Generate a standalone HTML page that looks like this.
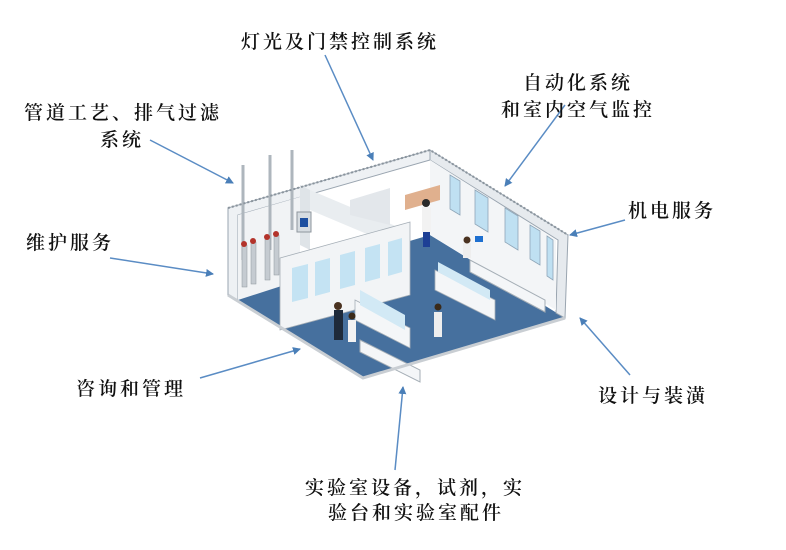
<!DOCTYPE html>
<html><head><meta charset="utf-8"><style>
html,body{margin:0;padding:0;background:#fff;}
body{width:786px;height:550px;overflow:hidden;position:relative;}
.t{position:absolute;font-family:"Liberation Serif","Noto Serif CJK SC",serif;font-size:19px;color:#111;white-space:nowrap;letter-spacing:3px;font-weight:600;}
svg{position:absolute;left:0;top:0;}
</style></head><body>
<svg width="786" height="550" viewBox="0 0 786 550">
<defs><marker id="a" markerWidth="8" markerHeight="8" refX="7" refY="4" orient="auto" markerUnits="userSpaceOnUse"><path d="M0,0 L8,4 L0,8 z" fill="#4a7fb8"/></marker></defs>
<g stroke="#5a8cc4" stroke-width="1.5" marker-end="url(#a)">
<line x1="325" y1="55" x2="373" y2="160"/>
<line x1="565" y1="105" x2="505" y2="186"/>
<line x1="150" y1="140" x2="233" y2="183"/>
<line x1="625" y1="220" x2="570" y2="235"/>
<line x1="110" y1="258" x2="213" y2="274"/>
<line x1="200" y1="378" x2="300" y2="349"/>
<line x1="630" y1="375" x2="580" y2="318"/>
<line x1="395" y1="470" x2="403" y2="387"/>
</g>
<!-- floor -->
<polygon points="228,295 363,378 565,318 430,235" fill="#46709e"/>
<!-- back wall -->
<polygon points="228,208 430,150 430,160 238,215 238,300 228,295" fill="#eef1f4" stroke="#9aa5b0" stroke-width="1"/>
<polygon points="430,150 568,235 565,318 556,313 558,240 430,160" fill="#e6eaee" stroke="#9aa5b0" stroke-width="1"/>
<polygon points="238,215 300,197 300,280 238,300" fill="#f1f3f5"/>
<polygon points="430,160 556,240 556,310 430,235" fill="#f3f5f7"/>
<g fill="#bfe0f2" stroke="#8fa6b8" stroke-width="0.8">
<polygon points="450,175 460,181 460,215 450,209"/>
<polygon points="475,190 488,198 488,232 475,224"/>
<polygon points="505,208 518,216 518,250 505,242"/>
<polygon points="530,225 540,231 540,265 530,259"/>
<polygon points="547,236 553,240 553,280 547,276"/>
</g>
<!-- interior walls -->
<polygon points="310,190 405,230 405,250 310,210" fill="#e9edf0"/>
<polygon points="300,185 310,190 310,250 300,245" fill="#dfe4e8"/>
<polygon points="350,200 390,188 390,225 350,215" fill="#e3e7eb"/>
<polygon points="405,195 440,185 440,200 405,210" fill="#e0b08e"/>
<g stroke="#aeb6bd" stroke-width="3" fill="none">
<path d="M243,165 V260"/><path d="M270,155 V250"/><path d="M292,150 V230"/>
</g>
<g fill="#c5cbd1" stroke="#8e969d" stroke-width="0.5">
<rect x="242" y="245" width="5" height="42"/><rect x="251" y="242" width="5" height="42"/>
<rect x="265" y="238" width="5" height="42"/><rect x="274" y="235" width="5" height="40"/>
</g>
<g fill="#b3332b"><circle cx="244" cy="244" r="3"/><circle cx="253" cy="241" r="3"/><circle cx="267" cy="237" r="3"/><circle cx="276" cy="234" r="3"/></g>
<rect x="297" y="212" width="14" height="20" fill="#d6dce1" stroke="#8e969d"/>
<rect x="300" y="218" width="8" height="9" fill="#1d4fa0"/>
<polygon points="280,258 410,222 410,295 280,330" fill="#f2f4f6" stroke="#a5aeb6" stroke-width="0.8"/>
<g fill="#c4e3f3">
<polygon points="292,268 308,264 308,298 292,302"/>
<polygon points="315,262 330,258 330,292 315,296"/>
<polygon points="340,255 355,251 355,285 340,289"/>
<polygon points="365,248 380,244 380,278 365,282"/>
<polygon points="388,242 402,238 402,272 388,276"/>
</g>
<polygon points="355,300 410,328 410,348 355,320" fill="#f4f6f8" stroke="#a5aeb6" stroke-width="0.8"/>
<polygon points="360,290 405,315 405,330 360,305" fill="#d2e9f5"/>
<polygon points="435,270 495,300 495,320 435,290" fill="#f4f6f8" stroke="#a5aeb6" stroke-width="0.8"/>
<polygon points="438,262 490,290 490,300 438,272" fill="#d2e9f5"/>
<polygon points="360,340 420,370 420,382 360,352" fill="#f4f6f8" stroke="#a5aeb6"/>
<polygon points="470,260 545,300 545,312 470,272" fill="#f4f6f8" stroke="#a5aeb6"/>
<rect x="334" y="310" width="9" height="30" fill="#1e2a3a"/><circle cx="338" cy="306" r="4" fill="#4a3220"/>
<rect x="348" y="320" width="8" height="22" fill="#f2f2f2"/><circle cx="352" cy="316" r="3.5" fill="#3a2a1a"/>
<rect x="434" y="312" width="8" height="25" fill="#eee"/><circle cx="438" cy="307" r="3.5" fill="#3a2a1a"/>
<rect x="422" y="207" width="9" height="25" fill="#f2f2f2"/><rect x="423" y="232" width="7" height="15" fill="#1d3f95"/><circle cx="426" cy="203" r="4" fill="#2a2a2a"/>
<rect x="463" y="243" width="8" height="15" fill="#eee"/><circle cx="467" cy="240" r="3.5" fill="#4a3220"/>
<rect x="475" y="236" width="8" height="6" fill="#1d6fd0"/>
<polyline points="228,208 430,150 568,235" fill="none" stroke="#8a949d" stroke-width="2" stroke-dasharray="2,2"/>
<polyline points="228,295 363,378 565,318" fill="none" stroke="#c9ced3" stroke-width="3"/>
</svg>
<div class="t" style="left:241px;top:27px;">灯光及门禁控制系统</div>
<div class="t" style="left:523px;top:68px;">自动化系统</div>
<div class="t" style="left:501px;top:95px;">和室内空气监控</div>
<div class="t" style="left:24px;top:98px;">管道工艺、排气过滤</div>
<div class="t" style="left:100px;top:125px;">系统</div>
<div class="t" style="left:628px;top:196px;">机电服务</div>
<div class="t" style="left:26px;top:228px;">维护服务</div>
<div class="t" style="left:76px;top:374px;">咨询和管理</div>
<div class="t" style="left:598px;top:381px;">设计与装潢</div>
<div class="t" style="left:305px;top:473px;">实验室设备，试剂，实</div>
<div class="t" style="left:328px;top:498px;">验台和实验室配件</div>
</body></html>
